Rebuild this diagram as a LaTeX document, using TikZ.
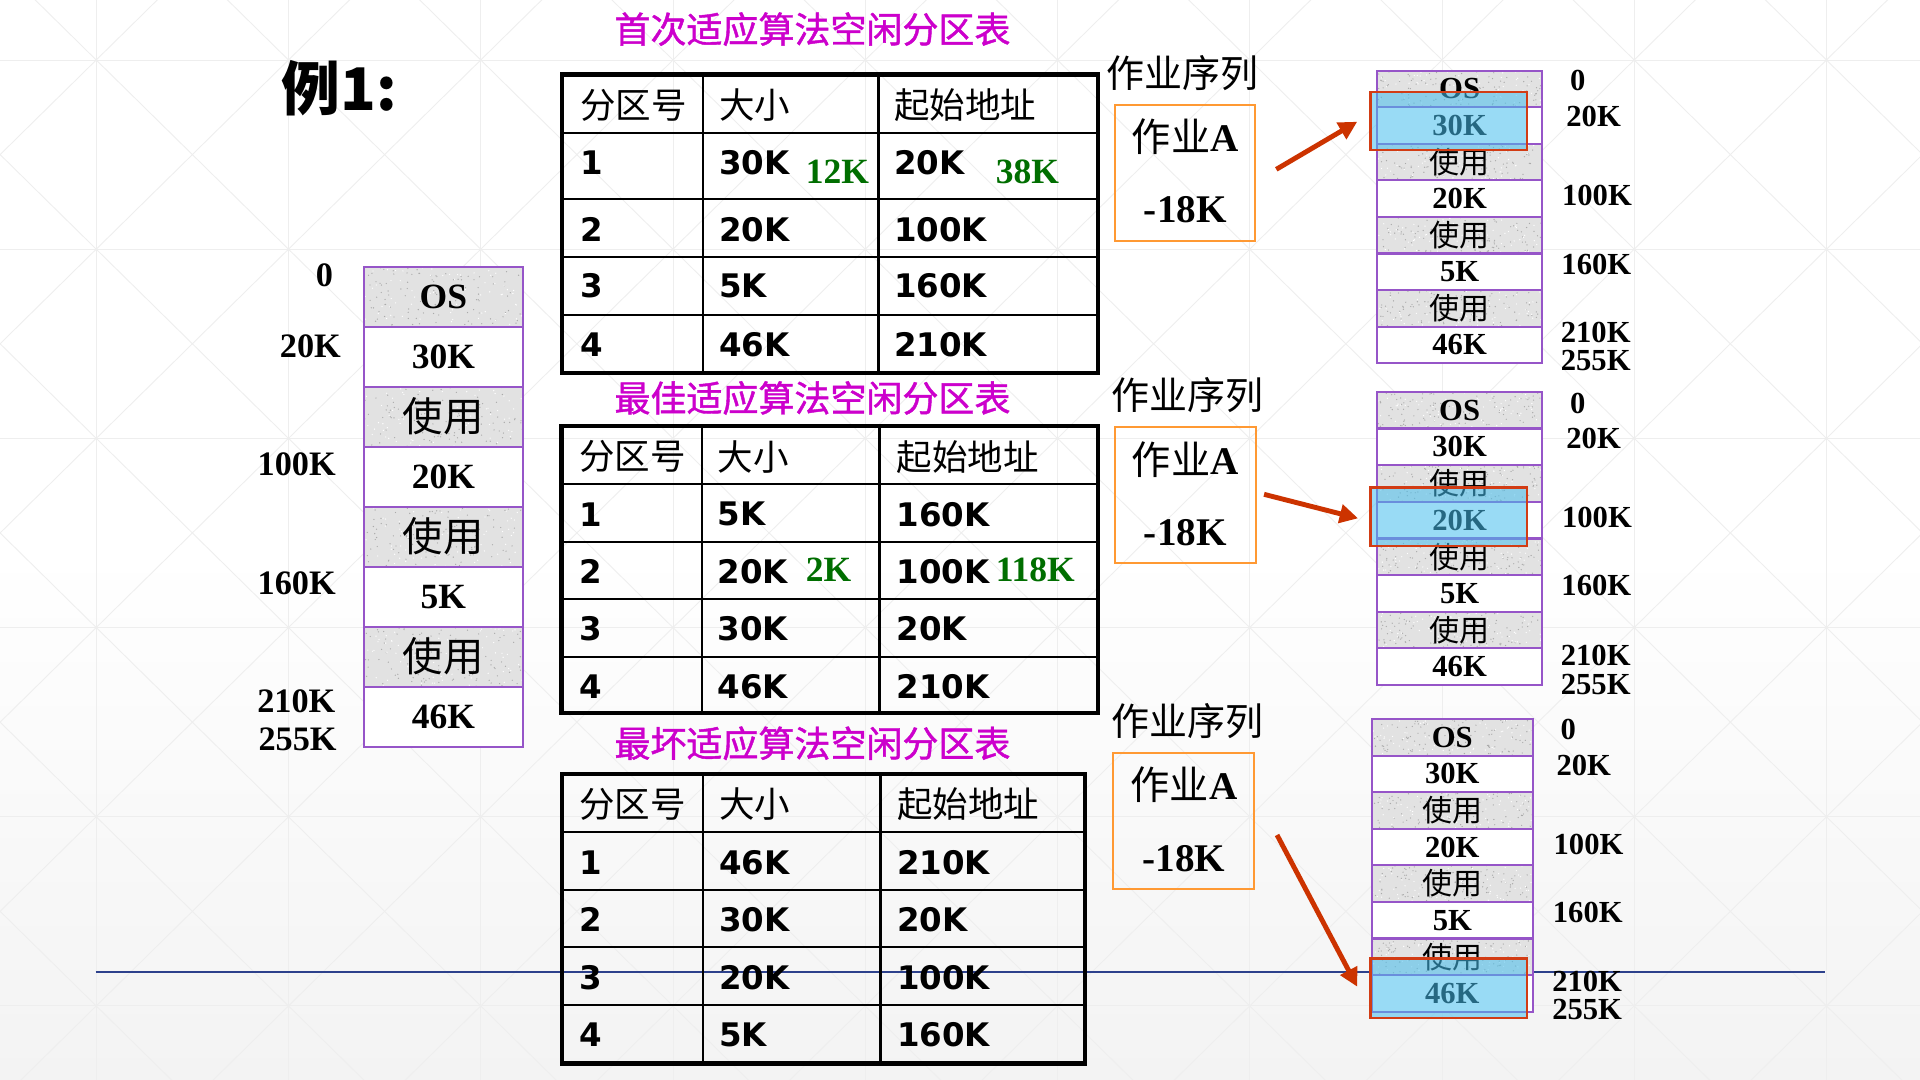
\documentclass[tikz,border=0pt]{standalone}
\usepackage{fontspec}
\setmainfont{Liberation Serif}
\newfontfamily\cjk{Noto Sans CJK SC}
\newfontfamily\cjkmed{Noto Sans CJK SC}[FakeBold=1.2]
\newfontfamily\verd{DejaVu Sans}
\usetikzlibrary{arrows.meta}
\newcommand\myfs[1]{\fontsize{#1}{#1}\selectfont}
\definecolor{titlemag}{RGB}{204,0,204}
\definecolor{okgreen}{RGB}{0,110,0}
\definecolor{mempurple}{RGB}{150,85,200}
\definecolor{joborange}{RGB}{255,153,51}
\definecolor{arrred}{RGB}{204,51,0}
\definecolor{hlred}{RGB}{210,60,20}
\definecolor{hlblue}{RGB}{70,190,237}
\definecolor{navyline}{RGB}{45,65,140}
\definecolor{cellgray}{RGB}{226,226,226}
\definecolor{speckdark}{RGB}{170,170,170}
\definecolor{gridgray}{RGB}{238,238,238}
\definecolor{bottomgray}{RGB}{243,243,243}

\newcommand\speckcell[4]{%
  \fill[cellgray] ({#1},{#2}) rectangle ({#3},{#4});
  \foreach \k in {1,...,110}{\fill[speckdark] ({(#1)+rnd*((#3)-(#1))},{(#2)+rnd*((#4)-(#2))}) circle (0.55);}
  \foreach \k in {1,...,70}{\fill[white] ({(#1)+rnd*((#3)-(#1))},{(#2)+rnd*((#4)-(#2))}) circle (0.55);}
}

% #1 name, #2 x left, #3 x right, #4 y top, #5 row height, #6 latin size, #7 cjk size
\newcommand\memmap[7]{%
  \foreach \i/\u in {0/1,1/0,2/1,3/0,4/1,5/0,6/1,7/0}{%
    \ifnum\u=1
      \speckcell{#2}{#4+\i*#5}{#3}{#4+(\i+1)*#5}%
    \else
      \fill[white] ({#2},{#4+\i*#5}) rectangle ({#3},{#4+(\i+1)*#5});%
    \fi
  }%
  \foreach \i/\t in {0/{\bfseries\myfs{#6}OS},1/{\bfseries\myfs{#6}30K},2/{\cjk\myfs{#7}使用},3/{\bfseries\myfs{#6}20K},4/{\cjk\myfs{#7}使用},5/{\bfseries\myfs{#6}5K},6/{\cjk\myfs{#7}使用},7/{\bfseries\myfs{#6}46K}}{%
    \node[memcell,minimum width={((#3)-(#2))*1pt},minimum height={(#5)*1pt}] (#1-\i) at ({((#2)+(#3))/2},{#4+(\i+0.5)*#5}) {\t};
  }%
}

\begin{document}
\begin{tikzpicture}[x=1pt,y=-1pt,
  tinner/.style={line width=1.8pt,black},
  touter/.style={line width=3.6pt,black},
  thead/.style={anchor=west,inner sep=0pt,font=\cjk\myfs{29}},
  tcell/.style={anchor=west,inner sep=0pt,font=\verd\bfseries\myfs{26.5}},
  tgreen/.style={anchor=west,inner sep=0pt,text=okgreen,font=\bfseries\myfs{29}},
  ttitle/.style={inner sep=0pt,text=titlemag,font=\cjkmed\myfs{29.4}},
  memcell/.style={draw=mempurple,line width=1.8pt,inner sep=0pt},
  rlbl/.style={anchor=west,inner sep=0pt,font=\bfseries\myfs{25}},
  llbl/.style={inner sep=0pt,font=\bfseries\myfs{28}},
  jobbox/.style={draw=joborange,line width=1.8pt,inner sep=0pt},
  jobt/.style={inner sep=0pt,font=\myfs{32}},
  seqlbl/.style={inner sep=0pt,font=\cjk\myfs{31}},
  hlbox/.style={draw=hlred,line width=2.2pt,fill=hlblue,fill opacity=0.55,inner sep=0pt,minimum width=127.5pt},
  arrowst/.style={draw=arrred,line width=4pt,-{Triangle[length=15pt,width=15pt]}}
]
\useasboundingbox (0,0) rectangle (1568,882);
\pgfmathsetseed{7}
% background
\fill[white] (0,0) rectangle (1568,882);
\shade[top color=white,bottom color=bottomgray] (0,450) rectangle (1568,882);
\begin{scope}
  \clip (0,0) rectangle (1568,882);
  \foreach \k in {0,...,11}{
    \draw[gridgray,line width=0.7pt] ({-78.4+157*\k},0) -- ({-78.4+157*\k},882);
  }
  \foreach \l in {0,...,7}{
    \draw[gridgray,line width=0.7pt] (0,{-105.5+154.5*\l}) -- (1568,{-105.5+154.5*\l});
  }
  \foreach \k in {0,...,10}{
    \foreach \l in {0,...,6}{
      \draw[gridgray,line width=0.7pt] ({-78.4+157*\k},{-105.5+154.5*\l}) -- ({-78.4+157*(\k+1)},{-105.5+154.5*(\l+1)});
      \draw[gridgray,line width=0.7pt] ({-78.4+157*(\k+1)},{-105.5+154.5*\l}) -- ({-78.4+157*\k},{-105.5+154.5*(\l+1)});
    }
  }
\end{scope}

% navy rule
\draw[navyline,line width=1.6pt] (78,793.5) -- (1490,793.5);

% title
\node[inner sep=0pt,font=\cjk\bfseries\myfs{48}] (title) at (277,72) {例1:};

% ---------- table 1 : first fit ----------
\node[ttitle] (ti1) at (663.5,23.8) {首次适应算法空闲分区表};
\foreach \yy in {108.6,162.5,209.9,257.2}{\draw[tinner] (459,\yy) -- (896.5,\yy);}
\foreach \xx in {574,717.5}{\draw[tinner] (\xx,61) -- (\xx,304.5);}
\draw[touter] (459,61) rectangle (896.5,304.5);
\node[thead] (t1h1) at (473.5,85.7) {分区号};
\node[thead] (t1h2) at (587,85.7) {大小};
\node[thead] (t1h3) at (730,85.7) {起始地址};
\foreach \r/\a/\b/\c/\yy in {1/1/30K/20K/133,2/2/20K/100K/187.3,3/3/5K/160K/233.4,4/4/46K/210K/281.2}{
  \node[tcell] (t1-\r-1) at (473.5,\yy) {\a};
  \node[tcell] (t1-\r-2) at (587,\yy) {\b};
  \node[tcell] (t1-\r-3) at (730,\yy) {\c};
}
\node[tgreen] (t1g1) at (658,140.3) {12K};
\node[tgreen] (t1g2) at (813,140.3) {38K};

% ---------- table 2 : best fit ----------
\node[ttitle] (ti2) at (663.5,325) {最佳适应算法空闲分区表};
\foreach \yy in {395.3,442.6,489.5,536.3}{\draw[tinner] (458.6,\yy) -- (896.7,\yy);}
\foreach \xx in {573,718.3}{\draw[tinner] (\xx,347.9) -- (\xx,582.3);}
\draw[touter] (458.6,347.9) rectangle (896.7,582.3);
\node[thead] (t2h1) at (472.7,373) {分区号};
\node[thead] (t2h2) at (586,373) {大小};
\node[thead] (t2h3) at (732,373) {起始地址};
\foreach \r/\a/\b/\c/\yy in {1/1/5K/160K/420,2/2/20K/100K/467,3/3/30K/20K/513.5,4/4/46K/210K/561}{
  \node[tcell] (t2-\r-1) at (472.7,\yy) {\a};
  \node[tcell] (t2-\r-2) at (586,\yy) {\b};
  \node[tcell] (t2-\r-3) at (732,\yy) {\c};
}
\node[tgreen] (t2g1) at (658,465.3) {2K};
\node[tgreen] (t2g2) at (813,465.3) {118K};

% ---------- table 3 : worst fit ----------
\node[ttitle] (ti3) at (663.5,607) {最坏适应算法空闲分区表};
\foreach \yy in {679.5,726.8,773.6,820.5}{\draw[tinner] (459,\yy) -- (886,\yy);}
\foreach \xx in {574,719}{\draw[tinner] (\xx,632) -- (\xx,868.4);}
\draw[touter] (459,632) rectangle (886,868.4);
\node[thead] (t3h1) at (472.7,657) {分区号};
\node[thead] (t3h2) at (587,657) {大小};
\node[thead] (t3h3) at (732.5,657) {起始地址};
\foreach \r/\a/\b/\c/\yy in {1/1/46K/210K/704.2,2/2/30K/20K/751.2,3/3/20K/100K/798.3,4/4/5K/160K/844.8}{
  \node[tcell] (t3-\r-1) at (472.7,\yy) {\a};
  \node[tcell] (t3-\r-2) at (587,\yy) {\b};
  \node[tcell] (t3-\r-3) at (732.5,\yy) {\c};
}

% ---------- left memory map ----------
\memmap{L}{297.3}{426.8}{217.8}{49}{29}{33}
\node[llbl] (L0) at (265,224.6) {0};
\node[llbl] (L20) at (253.5,282.5) {20K};
\node[llbl] (L100) at (242.3,379.5) {100K};
\node[llbl] (L160) at (242.3,476.5) {160K};
\node[llbl] (L210) at (242,573) {210K};
\node[llbl] (L255) at (243,603.6) {255K};

% ---------- right memory maps ----------
\memmap{Ra}{1124.5}{1259.5}{57.7}{29.875}{25}{24.5}
\memmap{Rb}{1124.5}{1259.5}{320.1}{29.91}{25}{24.5}
\memmap{Rc}{1120.4}{1251.7}{587.2}{29.875}{25}{24.5}

\foreach \t/\xx/\yy in {0/1282/66,20K/1279/95,100K/1275.5/159.7,160K/1275/215.7,210K/1274.5/271.5,255K/1274.5/294.7}{
  \node[rlbl] (Ra-l-\t) at (\xx,\yy) {\t};
}
\foreach \t/\xx/\yy in {0/1282/329.4,20K/1279/358.4,100K/1275.5/422.6,160K/1275/478.4,210K/1274.5/535.3,255K/1274.5/558.7}{
  \node[rlbl] (Rb-l-\t) at (\xx,\yy) {\t};
}
\foreach \t/\xx/\yy in {0/1274.2/595.6,20K/1271/624.9,100K/1268.6/689.4,160K/1268/745.2,210K/1267.5/801.7,255K/1267.5/824.1}{
  \node[rlbl] (Rc-l-\t) at (\xx,\yy) {\t};
}

% highlight boxes
\node[hlbox,minimum height=47.4pt] (hl1) at (1183.25,98.8) {};
\node[hlbox,minimum height=47.6pt] (hl2) at (1183.25,422.1) {};
\node[hlbox,minimum height=48.4pt] (hl3) at (1183.25,807.1) {};

% ---------- job boxes ----------
\node[seqlbl] (seq1) at (966,60) {作业序列};
\node[jobbox,minimum width=114.1pt,minimum height=110.9pt] (job1) at (967.75,141.15) {};
\node[jobt] (job1a) at (968,112) {{\cjk 作业}\textbf{A}};
\node[jobt] (job1b) at (968,171.5) {\textbf{-18K}};

\node[seqlbl] (seq2) at (969.5,322.5) {作业序列};
\node[jobbox,minimum width=115pt,minimum height=110.5pt] (job2) at (968.2,404.25) {};
\node[jobt] (job2a) at (968,375) {{\cjk 作业}\textbf{A}};
\node[jobt] (job2b) at (968,434.6) {\textbf{-18K}};

\node[seqlbl] (seq3) at (969.5,588.7) {作业序列};
\node[jobbox,minimum width=115.3pt,minimum height=111.3pt] (job3) at (966.55,670.35) {};
\node[jobt] (job3a) at (967,640.7) {{\cjk 作业}\textbf{A}};
\node[jobt] (job3b) at (966.7,701.3) {\textbf{-18K}};

% arrows
\draw[arrowst] ([shift={(16.6,-2.85)}]job1.east) -- ([shift={(-10,0.6)}]hl1.west);
\draw[arrowst] ([shift={(5.7,-0.55)}]job2.east) -- ([shift={(-9.3,1.2)}]hl2.west);
\draw[arrowst] ([shift={(17.8,11.55)}]job3.east) -- ([shift={(-10,-1.3)}]hl3.west);
\end{tikzpicture}
\end{document}
